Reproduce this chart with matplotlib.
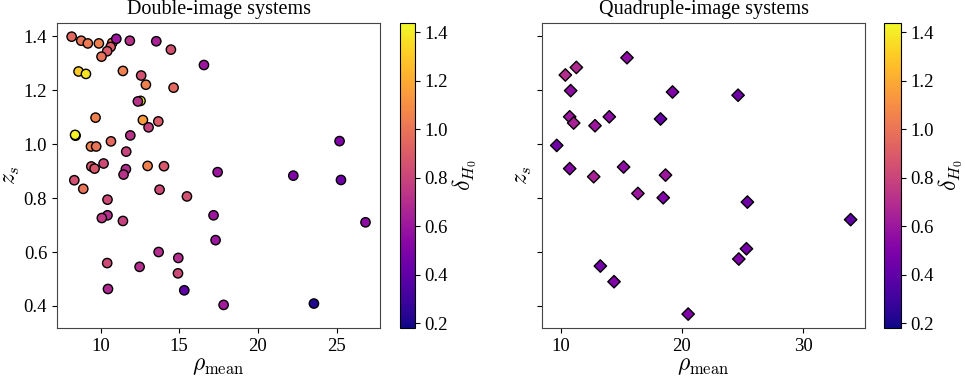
import matplotlib
matplotlib.use("Agg")
import matplotlib.pyplot as plt
import numpy as np

plt.rcParams['font.family'] = 'serif'
plt.rcParams['font.serif'] = ['Liberation Serif', 'DejaVu Serif']
plt.rcParams['mathtext.fontset'] = 'cm'

# double-image systems: rho_mean, z_s, delta_H0
rho_double = [8.16, 8.77, 9.19, 9.89, 10.74, 11.00, 10.64, 10.42, 10.06, 11.86,
              13.54, 14.47, 16.57, 8.60, 9.07, 11.42, 12.58, 12.88, 14.64, 12.54,
              12.37, 9.68, 12.69, 13.67, 13.05, 8.41, 8.38, 10.66, 11.89, 9.39,
              9.72, 11.63, 9.41, 9.62, 10.19, 11.61, 11.46, 12.99, 14.03, 17.44,
              22.25, 25.19, 25.28, 8.33, 8.90, 13.75, 15.49, 10.44, 10.44, 10.08,
              11.42, 17.18, 26.84, 17.31, 13.69, 14.94, 10.42, 12.48, 14.92, 10.47,
              15.32, 17.82, 23.56]
zs_double = [1.398, 1.383, 1.373, 1.373, 1.375, 1.390, 1.360, 1.344, 1.324, 1.383,
             1.381, 1.350, 1.293, 1.269, 1.260, 1.271, 1.254, 1.220, 1.209, 1.160,
             1.158, 1.098, 1.089, 1.084, 1.062, 1.031, 1.034, 1.010, 1.032, 0.991,
             0.991, 0.972, 0.917, 0.909, 0.928, 0.907, 0.887, 0.919, 0.918, 0.896,
             0.883, 1.011, 0.867, 0.866, 0.834, 0.831, 0.806, 0.794, 0.736, 0.726,
             0.715, 0.736, 0.710, 0.644, 0.600, 0.578, 0.559, 0.545, 0.521, 0.463,
             0.458, 0.404, 0.409]
dH0_double = [0.95, 1.00, 1.02, 1.05, 1.05, 0.60, 0.90, 0.90, 1.00, 0.72,
              0.65, 0.85, 0.60, 1.30, 1.38, 1.05, 0.85, 1.05, 0.95, 1.40,
              0.72, 1.05, 1.15, 0.90, 0.78, 0.20, 1.42, 0.95, 0.72, 1.05,
              1.00, 0.80, 0.88, 0.88, 0.82, 0.70, 0.72, 1.05, 0.88, 0.60,
              0.50, 0.50, 0.45, 0.85, 1.00, 0.82, 0.85, 0.82, 0.70, 0.75,
              0.78, 0.60, 0.55, 0.60, 0.70, 0.70, 0.82, 0.70, 0.82, 0.68,
              0.40, 0.62, 0.22]

# quadruple-image systems
rho_quad = [15.47, 10.38, 11.29, 10.82, 19.23, 24.64, 10.74, 11.07, 12.83, 14.01,
            18.24, 9.67, 10.74, 12.72, 15.19, 18.65, 16.37, 18.46, 25.41, 33.93,
            25.33, 24.70, 13.27, 14.40, 20.52]
zs_quad = [1.320, 1.256, 1.284, 1.198, 1.193, 1.181, 1.101, 1.078, 1.068, 1.101,
           1.093, 0.995, 0.909, 0.879, 0.915, 0.885, 0.817, 0.801, 0.785, 0.720,
           0.612, 0.574, 0.548, 0.490, 0.370]
dH0_quad = [0.55, 0.70, 0.68, 0.55, 0.50, 0.45, 0.60, 0.65, 0.60, 0.55,
            0.42, 0.45, 0.52, 0.65, 0.55, 0.60, 0.60, 0.50, 0.45, 0.40,
            0.47, 0.50, 0.47, 0.50, 0.50]

vmin, vmax = 0.18, 1.44

fig = plt.figure(figsize=(9.65, 3.8), dpi=100)
ax1 = fig.add_axes([0.059, 0.137, 0.335, 0.803])
cax1 = fig.add_axes([0.4145, 0.137, 0.0155, 0.803])
ax2 = fig.add_axes([0.5617, 0.137, 0.335, 0.803], sharey=ax1)
cax2 = fig.add_axes([0.916, 0.137, 0.0176, 0.803])

sc1 = ax1.scatter(rho_double, zs_double, c=dH0_double, cmap='plasma', vmin=vmin, vmax=vmax,
                  s=45, marker='o', edgecolors='k', linewidths=1.0)
sc2 = ax2.scatter(rho_quad, zs_quad, c=dH0_quad, cmap='plasma', vmin=vmin, vmax=vmax,
                  s=40, marker='D', edgecolors='k', linewidths=1.0)

ax1.set_title('Double-image systems', fontsize=14.5)
ax2.set_title('Quadruple-image systems', fontsize=14.5)
for ax in (ax1, ax2):
    ax.set_xlabel(r'$\rho_{\rm mean}$', fontsize=17, labelpad=1)
    ax.tick_params(labelsize=13.5)
    for sp in ax.spines.values():
        sp.set_color('#444444')
ax1.set_ylabel(r'$z_s$', fontsize=17, labelpad=1)
ax2.set_ylabel(r'$z_s$', fontsize=17, labelpad=2)
ax2.tick_params(labelleft=False)
ax1.set_yticks([0.4, 0.6, 0.8, 1.0, 1.2, 1.4])
ax1.set_xticks([10, 15, 20, 25])
ax2.set_xticks([10, 20, 30])

for sc, cax in ((sc1, cax1), (sc2, cax2)):
    cb = fig.colorbar(sc, cax=cax)
    cb.set_label(r'$\delta_{H_0}$', fontsize=17, labelpad=2)
    cb.set_ticks([0.2, 0.4, 0.6, 0.8, 1.0, 1.2, 1.4])
    cb.ax.tick_params(labelsize=13.5)

fig.savefig('out.png', dpi=100)
